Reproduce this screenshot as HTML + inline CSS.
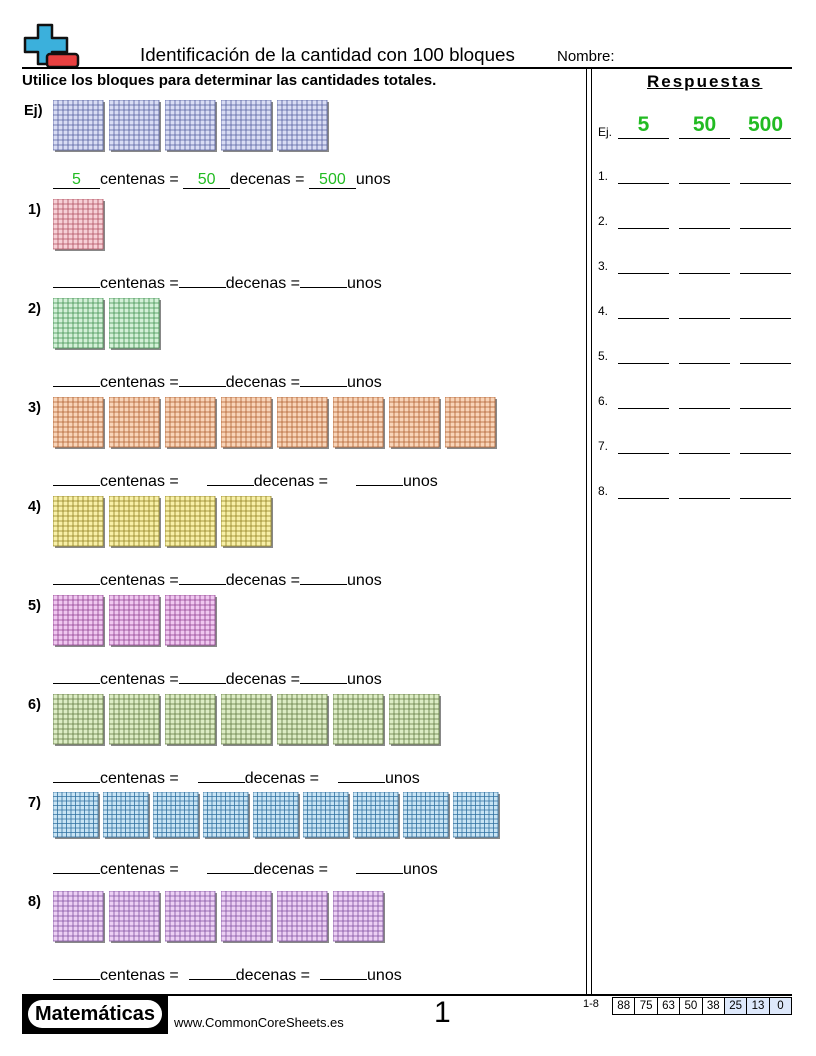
<!DOCTYPE html>
<html><head><meta charset="utf-8">
<style>
body{margin:0;width:816px;height:1056px;background:#fff;font-family:"Liberation Sans",Arial,sans-serif;position:relative;overflow:hidden}
.a{position:absolute;white-space:nowrap}
.ln{position:absolute;background:#000}
.q{font-size:14.5px;font-weight:bold}
.eq{font-size:16px}
.u{display:inline-block;border-bottom:1px solid #000;text-align:center;height:17px;vertical-align:baseline}
.g{color:#22bb22}
.ar{font-size:12px}
.al{position:absolute;height:1px;background:#000;width:51px}
</style></head><body>
<svg class="a" style="left:22px;top:23px" width="60" height="46">
<path d="M16 2h14v13h15v14H30v12H16V29H3V15h13z" fill="#3bb0dc" stroke="#111" stroke-width="2.5" stroke-linejoin="round"/>
<rect x="25" y="31" width="31" height="13" rx="3" fill="#e84040" stroke="#111" stroke-width="2.5"/>
</svg>
<div class="a" style="left:140px;top:44px;font-size:18.8px">Identificación de la cantidad con 100 bloques</div>
<div class="a" style="left:557px;top:48px;font-size:15px">Nombre:</div>
<div class="ln" style="left:22px;top:67px;width:770px;height:2px"></div>
<div class="a" style="left:22px;top:72px;font-size:15px;font-weight:bold">Utilice los bloques para determinar las cantidades totales.</div>
<div class="ln" style="left:586px;top:69px;width:1px;height:926px"></div>
<div class="ln" style="left:591px;top:69px;width:1px;height:926px"></div>
<div class="a" style="left:647px;top:72px;font-size:17px;font-weight:bold;letter-spacing:2px;text-decoration:underline">Respuestas</div>
<div id="main"></div>
<div class="ln" style="left:22px;top:994px;width:770px;height:2px"></div>
<div class="a" style="left:22px;top:996px;width:146px;height:38px;background:#000"></div>
<div class="a" style="left:28px;top:1000px;width:134px;height:28px;background:#fff;border-radius:14px;font-size:20px;font-weight:bold;text-align:center;line-height:28px">Matemáticas</div>
<div class="a" style="left:174px;top:1015px;font-size:13px">www.CommonCoreSheets.es</div>
<div class="a" style="left:434px;top:996px;font-size:30px">1</div>
<div class="a" style="left:583px;top:998px;font-size:11px">1-8</div>
<div id="sc" class="a" style="left:612px;top:997px;display:flex;border:1px solid #000"></div>
<script>
const labels=['Ej)','1)','2)','3)','4)','5)','6)','7)','8)'];
const counts=[5,1,2,8,4,3,7,9,6];
const scores=[88,75,63,50,38,25,13,0];
const fills=['#d8dcf4','#f6d0d6','#d4f0d8','#f8d4b8','#f8f0a8','#f0c8f0','#dcecc4','#c8e4f4','#ecd0f4'];
const grids=['#5660a0','#b05060','#409050','#b06030','#908020','#904090','#607840','#3070a0','#8050a0'];
const rowTops=[100,199,298,397,496,595,694,792,891];
const eqTops=[171,270,369,468,567,666,765,856,962];
const main=document.getElementById('main');
function blockSvg(i,x,y,s){
  let g='';
  for(let k=0;k<=10;k++){const p=(k*s/10).toFixed(1);g+=`<line x1="${p}" y1="0" x2="${p}" y2="${s}"/><line x1="0" y1="${p}" x2="${s}" y2="${p}"/>`;}
  return `<svg class="a" style="left:${x}px;top:${y}px" width="${s+3}" height="${s+3}"><rect x="2" y="2" width="${s}" height="${s}" fill="#888"/><rect x="0" y="0" width="${s}" height="${s}" fill="${fills[i]}"/><g stroke="${grids[i]}" stroke-width="0.8">${g}</g></svg>`;
}
let h='';
labels.forEach((l,i)=>{
  h+=`<div class="a q" style="left:${i==0?24:28}px;top:${rowTops[i]+3}px">${l}</div>`;
  const s=i==7?45:50, st=i==7?50:56;
  for(let b=0;b<counts[i];b++) h+=blockSvg(i,53+b*st,rowTops[i],s);
  let e;
  if(i==0) e=`<span class="u g" style="width:47px">5</span>centenas = <span class="u g" style="width:47px">50</span>decenas = <span class="u g" style="width:47px">500</span>unos`;
  else if([3,6,7,8].includes(i)){const gap=[0,0,0,28,0,0,19,28,10][i];e=`<span class="u" style="width:47px"></span>centenas =<span style="display:inline-block;width:${gap}px"></span><span class="u" style="width:47px"></span>decenas =<span style="display:inline-block;width:${gap}px"></span><span class="u" style="width:47px"></span>unos`;}
  else e=`<span class="u" style="width:47px"></span>centenas =<span class="u" style="width:47px"></span>decenas =<span class="u" style="width:47px"></span>unos`;
  h+=`<div class="a eq" style="left:53px;top:${eqTops[i]}px">${e}</div>`;
});
const aTops=[138,183,228,273,318,363,408,453,498];
aTops.forEach((t,i)=>{
  h+=`<div class="a ar" style="left:598px;top:${t-14+(i==0?1:0)}px">${i==0?'Ej.':i+'.'}</div>`;
  [618,679,740].forEach((x,j)=>{
    h+=`<div class="al" style="left:${x}px;top:${t}px"></div>`;
    if(i==0) h+=`<div class="a g" style="left:${x}px;top:${t-25}px;width:51px;text-align:center;font-size:21px;font-weight:bold">${['5','50','500'][j]}</div>`;
  });
});
main.innerHTML=h;
const sc=document.getElementById('sc');
scores.forEach((v,i)=>{const d=document.createElement('div');


d.textContent=v;d.style.cssText=`width:21.4px;height:16px;font-size:11.5px;text-align:center;line-height:16px;border-left:${i?1:0}px solid #000;background:${i>=5?'#dde8fb':'#fff'}`;sc.appendChild(d);});
</script>
</body></html>
